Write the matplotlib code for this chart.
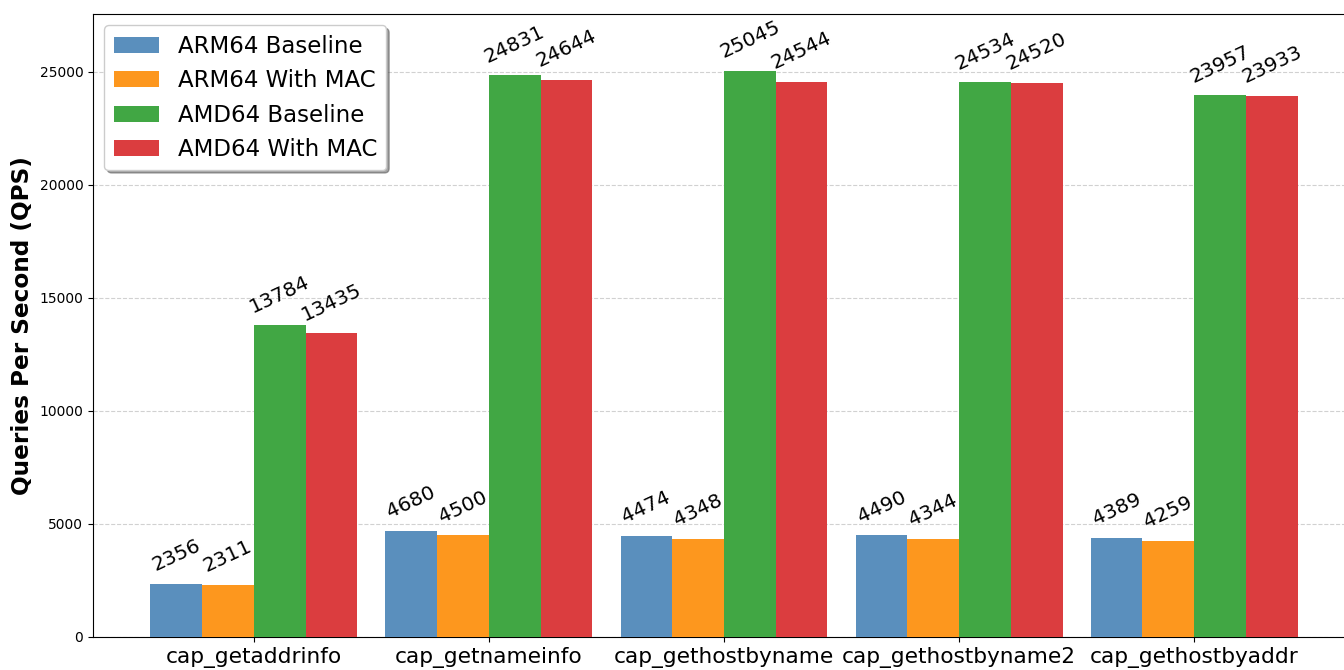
import matplotlib

matplotlib.use("Agg")
import matplotlib.pyplot as plt
import numpy as np

functions = [
    "cap_getaddrinfo",
    "cap_getnameinfo",
    "cap_gethostbyname",
    "cap_gethostbyname2",
    "cap_gethostbyaddr",
]
series_names = ["ARM64 Baseline", "ARM64 With MAC", "AMD64 Baseline", "AMD64 With MAC"]
arm64_baseline = [2356, 4680, 4474, 4490, 4389]
arm64_mac = [2311, 4500, 4348, 4344, 4259]
amd64_baseline = [13784, 24831, 25045, 24534, 23957]
amd64_mac = [13435, 24644, 24544, 24520, 23933]
colors = ["#5a8fbd", "#fd971e", "#41a744", "#db3d3f"]

fig = plt.figure(figsize=(13.44, 6.7), dpi=100)
ax = fig.add_axes([93 / 1344, 33 / 670, 1262 / 1344, 623 / 670])

x = np.arange(len(functions))
width = 0.22
all_series = [arm64_baseline, arm64_mac, amd64_baseline, amd64_mac]
offsets = [-1.5 * width, -0.5 * width, 0.5 * width, 1.5 * width]

for vals, off, name, color in zip(all_series, offsets, series_names, colors):
    bars = ax.bar(x + off, vals, width, label=name, color=color, zorder=3)
    for b, v in zip(bars, vals):
        ax.text(b.get_x() + b.get_width() / 2, v + 400, f"{v}",
                ha="center", va="bottom", rotation=25, fontsize=14.5, zorder=4)

ax.set_xticks(x)
ax.set_xticklabels(functions, fontsize=15.6)
ax.set_ylabel("Queries Per Second (QPS)", fontsize=16.7, fontweight="bold")
ax.tick_params(axis="y", labelsize=10)
ax.set_ylim(0, max(amd64_baseline) * 1.1)
ax.set_xlim(-0.684, len(functions) - 1 + 0.684)
ax.grid(axis="y", linestyle="--", color="#cccccc", alpha=0.9, zorder=0)
ax.set_axisbelow(True)
ax.legend(loc="upper left", fontsize=16.5, shadow=True, framealpha=1)

fig.savefig("out.png", dpi=100)
